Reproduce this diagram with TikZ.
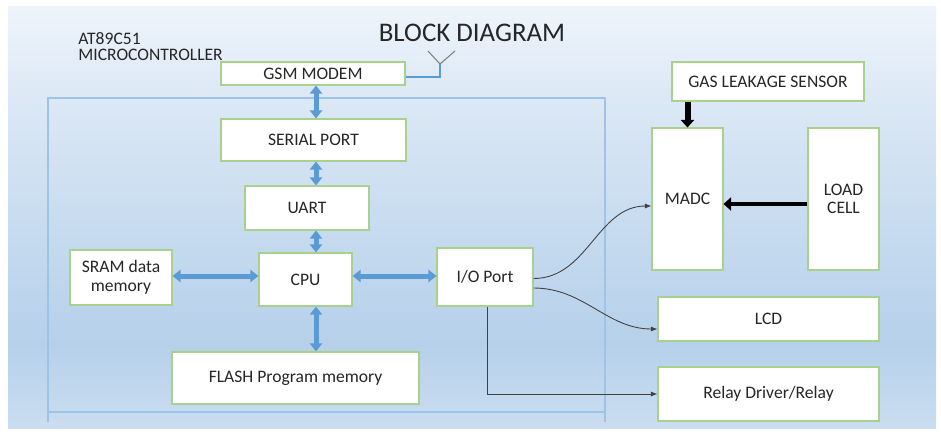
\documentclass[tikz,border=0pt]{standalone}
\usepackage{fontspec}
\setmainfont{Carlito}
\usepackage{tikz}
\usetikzlibrary{arrows.meta,positioning,calc}

\definecolor{bgtop}{HTML}{EEF4FB}
\definecolor{bglite}{HTML}{DCE8F5}
\definecolor{bgmid}{HTML}{C3D9EE}
\definecolor{bgdeep}{HTML}{B6D0EA}
\definecolor{bgbot}{HTML}{CADDF0}
\definecolor{boxgreen}{HTML}{A9D18E}
\definecolor{busblue}{HTML}{5B9BD5}
\definecolor{framblue}{HTML}{9DC3E6}
\definecolor{txt}{HTML}{262626}

\pgfdeclareverticalshading{panel}{100bp}{color(0bp)=(bgbot); color(25bp)=(bgbot);
  color(35bp)=(bgdeep); color(46bp)=(bgmid); color(64bp)=(bglite); color(75bp)=(bgtop); color(100bp)=(bgtop)}

\begin{document}
\begin{tikzpicture}[x=0.02cm,y=-0.02cm,
  blk/.style={draw=boxgreen, fill=white, line width=0.6pt, inner sep=1pt, align=center,
    text=txt, font=\fontsize{10}{10.5}\selectfont},
  bus/.style={draw=busblue, line width=0.1cm,
    arrows={Triangle[width=0.24cm,length=0.16cm]-Triangle[width=0.24cm,length=0.16cm]}},
  feed/.style={draw=black, arrows={-Triangle[width=0.26cm,length=0.15cm]}},
  sig/.style={draw=black!75, line width=0.5pt, arrows={-Latex[length=1.3mm,width=1mm]}},
  frame/.style={draw=framblue, line width=0.6pt}]
\useasboundingbox (0,0) rectangle (941,434);
\fill[white] (0,0) rectangle (941,434);
\shade[shading=panel] (8,6) rectangle (936,428);

\node[font=\fontsize{15.3}{16}\selectfont, text=txt] (title) at (472,33) {BLOCK DIAGRAM};
\node[anchor=north west, align=left, inner sep=0pt, text=txt,
  font=\fontsize{10}{9.2}\selectfont] (mcu) at (78,32) {AT89C51\\MICROCONTROLLER};

\draw[frame] (48,422) -- (48,98) -- (605,98) -- (605,422);
\draw[frame] (48,412) -- (605,412);

\node[blk, minimum width=3.68cm, minimum height=0.46cm] (gsm) at (313,73.5) {GSM MODEM};
\node[blk, minimum width=3.70cm, minimum height=0.84cm] (serial) at (313.5,140) {SERIAL PORT};
\node[blk, minimum width=2.48cm, minimum height=0.88cm] (uart) at (307,208) {UART};
\node[blk, minimum width=1.86cm, minimum height=1.06cm] (cpu) at (305.5,279.5) {CPU};
\node[blk, minimum width=2.04cm, minimum height=1.10cm] (sram) at (121,277.5) {SRAM data\\memory};
\node[blk, minimum width=1.92cm, minimum height=1.16cm] (io) at (485,277) {I/O Port};
\node[blk, minimum width=4.94cm, minimum height=1.04cm] (flash) at (295.5,378) {FLASH Program memory};

\node[blk, minimum width=3.84cm, minimum height=0.78cm] (gas) at (768,81.5) {GAS LEAKAGE SENSOR};
\node[blk, minimum width=1.42cm, minimum height=2.84cm] (madc) at (687.5,199) {MADC};
\node[blk, minimum width=1.42cm, minimum height=2.84cm] (load) at (843.5,199) {LOAD\\CELL};
\node[blk, minimum width=4.42cm, minimum height=0.88cm] (lcd) at (768.5,319) {LCD};
\node[blk, minimum width=4.42cm, minimum height=1.08cm] (relay) at (768.5,394) {Relay Driver/Relay};

\coordinate (col) at (316,0);
\coordinate (row) at (0,276);
\coordinate (ant) at (440,64);

\foreach \a/\b in {gsm/serial,serial/uart,uart/cpu,cpu/flash}
  \draw[bus] (\a.south -| col) -- (\b.north -| col);
\draw[bus] (sram.east |- row) -- (cpu.west |- row);
\draw[bus] (cpu.east |- row) -- (io.west |- row);

\draw[busblue, line width=0.6pt] ([yshift=-0.07cm]gsm.east) -| (ant);
\draw[gray, line width=0.6pt] (428,51) -- (ant) -- (455,51);

\draw[feed, line width=0.12cm] (gas.south -| madc.north) -- (madc.north);
\draw[feed, line width=0.08cm] ([yshift=-0.1cm]load.west) -- ([yshift=-0.1cm]madc.east);

\draw[sig] ([yshift=-0.03cm]io.east) to[out=0,in=180] ([yshift=-0.14cm]madc.west);
\draw[sig] ([yshift=-0.22cm]io.east) to[out=0,in=180] ([yshift=-0.2cm]lcd.west);
\draw[sig] ([xshift=0.04cm]io.south) |- (relay.west);
\end{tikzpicture}
\end{document}
